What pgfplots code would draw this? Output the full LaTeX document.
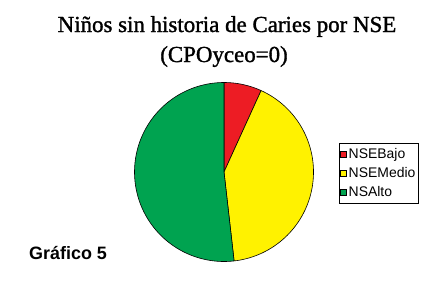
\documentclass[border=0pt]{standalone}
\usepackage{pgfplots}
\pgfplotsset{compat=1.18}
\usepackage{fontspec}
\setmainfont{Liberation Serif}
\newfontfamily\titlefont{Liberation Serif}[FakeBold=1.3]
\newfontfamily\arial{Liberation Sans}
\definecolor{pred}{RGB}{237,28,36}
\definecolor{pyel}{RGB}{255,242,0}
\definecolor{pgrn}{RGB}{0,163,80}
% shares (%): NSEBajo 6.8, NSEMedio 41.4, NSAlto 51.8
\begin{document}
\begin{tikzpicture}[x=1bp,y=-1bp]
\path[use as bounding box] (0,0) rectangle (434,293);
\node[anchor=base, inner sep=0pt, font=\titlefont\fontsize{23}{26}\selectfont] at (227,32) {Niños sin historia de Caries por NSE};
\node[anchor=base, inner sep=0pt, font=\titlefont\fontsize{23}{26}\selectfont] at (224,62) {(CPOyceo=0)};
\node[anchor=base west, inner sep=0pt, font=\arial\bfseries\fontsize{18}{20}\selectfont] at (29,259.5) {Gráfico 5};
\begin{axis}[
  at={(224bp,-172bp)}, anchor=center,
  scale only axis, width=179bp, height=179bp,
  xmin=-1, xmax=1, ymin=-1, ymax=1,
  hide axis, clip=false,
  legend style={at={(1.1425,0.662)}, anchor=north west, draw=black, line width=0.6pt,
    font=\arial\fontsize{14}{16}\selectfont, inner xsep=1pt, inner ysep=3pt,
    row sep=3.5pt, cells={anchor=west}},
  legend cell align=left,
  legend image code/.code={\draw[#1, line width=0.4pt] (0bp,-3bp) rectangle (6bp,3bp);},
]
\addplot[fill=pred, draw=black, line width=0.6pt, domain=65.52:90, samples=30, variable=\t]
  ({cos(\t)},{sin(\t)}) -- (axis cs:0,0) -- cycle;
\addlegendentry{NSEBajo}
\addplot[fill=pyel, draw=black, line width=0.6pt, domain=-83.52:65.52, samples=90, variable=\t]
  ({cos(\t)},{sin(\t)}) -- (axis cs:0,0) -- cycle;
\addlegendentry{NSEMedio}
\addplot[fill=pgrn, draw=black, line width=0.6pt, domain=-270:-83.52, samples=110, variable=\t]
  ({cos(\t)},{sin(\t)}) -- (axis cs:0,0) -- cycle;
\addlegendentry{NSAlto}
\end{axis}
\end{tikzpicture}
\end{document}
